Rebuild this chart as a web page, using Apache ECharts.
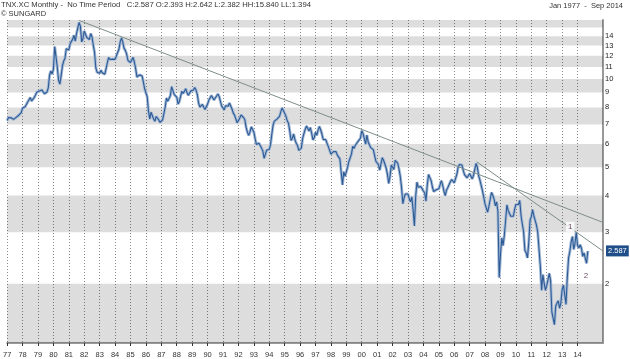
<!DOCTYPE html>
<html><head><meta charset="utf-8">
<script src="https://cdn.jsdelivr.net/npm/echarts@6/dist/echarts.min.js"></script>
<style>html,body{margin:0;padding:0;background:#fff}#c{width:630px;height:359px}</style>
</head><body><div id="c"></div><script>
// Monthly 10Y yield closes, Jan 1977 .. Sep 2014
const startYear = 1977;
const yields = [
 7.21,7.39,7.46,7.37,7.46,7.28,7.33,7.40,7.34,7.52,7.58,7.69,
 7.96,8.03,8.04,8.15,8.35,8.46,8.64,8.41,8.42,8.64,8.81,9.01,
 9.10,9.10,9.12,9.18,9.25,8.91,8.95,9.03,9.33,10.30,10.65,10.39,
 10.80,12.90,12.75,11.00,9.90,9.60,10.25,11.10,11.51,11.75,12.68,12.84,
 12.57,13.19,13.12,13.68,14.10,13.47,14.28,14.94,15.60,15.15,13.39,13.72,
 14.59,14.43,13.86,13.87,13.62,14.30,13.95,13.06,12.34,10.91,10.55,10.54,
 10.46,10.72,10.51,10.40,10.38,10.85,11.38,11.85,11.65,11.54,11.69,11.83,
 11.67,11.84,12.32,12.63,13.41,13.80,13.36,12.72,12.52,12.16,11.57,11.50,
 11.38,11.51,11.86,11.43,10.85,10.16,10.31,10.33,10.37,10.24,9.78,9.26,
 9.19,8.70,7.78,7.30,7.71,7.80,7.30,7.17,7.45,7.43,7.25,7.11,
 7.08,7.25,7.25,8.02,8.61,8.40,8.45,8.76,9.42,9.52,8.86,8.99,
 8.67,8.21,8.37,8.72,9.09,8.92,9.06,9.26,8.98,8.80,8.96,9.11,
 9.09,9.17,9.36,9.18,8.86,8.28,8.02,8.11,8.19,8.01,7.87,7.84,
 8.21,8.47,8.59,8.79,8.76,8.48,8.47,8.75,8.89,8.72,8.39,8.08,
 8.09,7.85,8.11,8.04,8.07,8.28,8.27,7.90,7.65,7.53,7.42,7.09,
 7.03,7.34,7.54,7.48,7.39,7.26,6.84,6.59,6.42,6.59,6.87,6.77,
 6.60,6.26,5.98,5.97,6.04,5.96,5.81,5.68,5.36,5.33,5.72,5.77,
 5.75,5.97,6.48,6.97,7.18,7.10,7.30,7.24,7.46,7.74,7.96,7.81,
 7.78,7.47,7.20,7.06,6.63,6.17,6.28,6.49,6.20,6.04,5.93,5.71,
 5.65,5.81,6.27,6.51,6.74,6.91,6.87,6.64,6.83,6.53,6.20,6.30,
 6.58,6.42,6.69,6.89,6.71,6.49,6.22,6.30,6.21,6.03,5.88,5.81,
 5.54,5.57,5.65,5.64,5.65,5.50,5.46,5.34,4.81,4.35,4.83,4.65,
 4.72,5.00,5.23,5.18,5.54,5.90,5.79,5.94,5.92,6.11,6.03,6.28,
 6.66,6.52,6.26,5.99,6.44,6.10,6.05,5.83,5.80,5.74,5.72,5.24,
 5.16,5.10,4.89,5.14,5.39,5.28,5.24,4.97,4.73,4.40,4.65,5.09,
 5.04,4.91,5.28,5.21,5.16,4.93,4.65,4.26,3.75,3.94,4.05,4.03,
 4.05,3.90,3.81,3.96,3.57,3.15,3.98,4.45,4.27,4.29,4.30,4.27,
 4.15,4.08,3.83,4.35,4.72,4.73,4.50,4.28,4.13,4.10,4.19,4.23,
 4.22,4.17,4.50,4.34,4.14,4.00,4.18,4.26,4.20,4.46,4.54,4.47,
 4.42,4.57,4.72,4.99,5.11,5.11,5.09,4.88,4.72,4.73,4.60,4.56,
 4.76,4.72,4.56,4.69,4.75,5.15,5.00,4.67,4.52,4.53,4.15,4.10,
 3.74,3.74,3.51,3.68,3.88,4.10,4.01,3.89,3.69,3.81,3.53,2.10,
 2.52,2.87,2.70,2.93,3.29,3.72,3.56,3.59,3.40,3.39,3.40,3.59,
 3.73,3.69,3.73,3.85,3.42,3.20,3.01,2.60,2.55,2.45,2.76,3.29,
 3.39,3.58,3.41,3.46,3.17,3.00,3.00,2.30,1.90,2.15,2.01,1.90,
 1.97,1.97,2.17,2.05,1.60,1.62,1.45,1.68,1.72,1.75,1.65,1.72,
 1.91,1.98,1.96,1.70,2.10,2.45,2.58,2.78,2.90,2.62,2.75,3.00,
 2.70,2.65,2.72,2.65,2.48,2.55,2.56,2.35,2.587
];
const yTickValues = [2,3,4,5,6,7,8,9,10,11,12,13,14];
const xTickYears = [1977,1978,1979,1980,1981,1982,1983,1984,1985,1986,1987,1988,1989,1990,1991,1992,1993,1994,1995,1996,1997,1998,1999,2000,2001,2002,2003,2004,2005,2006,2007,2008,2009,2010,2011,2012,2013,2014];
const grayBands = [[1.256,2],[3,4],[5,6],[7,8],[9,10],[11,12],[13,14],[15,15.9]];
const trendA = [[1981.67,15.84],[2015.65,3.24]];
const trendB = [[2007.45,5.22],[2015.65,2.587]];
const lastClose = 2.587;
const notes = [[2013.53,3.13,'1'],[2014.54,2.13,'2']];

const pts = yields.map((v,i)=>[startYear + i/12, v]);
const chart = echarts.init(document.getElementById('c'), null, {renderer:'canvas'});
const FONT = 'Liberation Sans';
chart.setOption({
  animation:false,
  backgroundColor:'#fff',
  textStyle:{fontFamily:FONT},
  title:[
    {text:'TNX.XC Monthly -  No Time Period   C:2.587 O:2.393 H:2.642 L:2.382 HH:15.840 LL:1.394',
     subtext:'© SUNGARD', left:0, top:0, padding:[1,1],itemGap:1,
     textStyle:{fontSize:7.7,fontWeight:'normal',color:'#333',fontFamily:FONT},
     subtextStyle:{fontSize:7.5,color:'#333',fontFamily:FONT}},
    {text:'Jan 1977  -  Sep 2014', right:6, top:1, padding:[1,1],
     textStyle:{fontSize:7.5,fontWeight:'normal',color:'#333',fontFamily:FONT}}
  ],
  grid:{left:2,right:27,top:20,bottom:16,containLabel:false},
  xAxis:{type:'value',min:1977,max:2015.65,interval:1,
    axisLine:{show:true,lineStyle:{color:'#999',width:2}},
    axisTick:{show:true,length:3,lineStyle:{color:'#333'},customValues:xTickYears},
    axisLabel:{customValues:xTickYears,fontSize:7.5,color:'#333',margin:8,
      formatter:v=>String(Math.round(v)%100).padStart(2,'0')},
    splitLine:{show:true,lineStyle:{color:'#8a8a8a',type:[1,2],width:1}}},
  yAxis:{type:'log',position:'right',min:1.256,max:15.9,
    axisLine:{show:true,lineStyle:{color:'#999',width:2}},
    axisTick:{show:false},
    axisLabel:{customValues:yTickValues,fontSize:7.5,color:'#222',margin:2,formatter:v=>String(v)},
    splitLine:{show:false}},
  series:[
    {type:'line',data:[],silent:true,z:0,
     markArea:{silent:true,itemStyle:{color:'rgba(0,0,0,0.135)'},
       data:grayBands.map(b=>[{yAxis:b[0]},{yAxis:b[1]}])}},
    {type:'line',data:pts,showSymbol:false,z:2,lineStyle:{color:'#a7bbd6',width:3},silent:true},
    {type:'line',data:pts,showSymbol:false,z:3,lineStyle:{color:'#2d5b96',width:1.1},
     markLine:{silent:true,symbol:['none','none'],lineStyle:{color:'rgba(0,0,0,0)',width:0,opacity:1},
       label:{show:true,position:'end',formatter:String(lastClose),color:'#fff',backgroundColor:'#1f4e89',
         padding:[2,2,1,2],fontSize:7.5,distance:3,opacity:1},
       data:[{yAxis:lastClose}]}},
    {type:'line',data:trendA,showSymbol:false,z:4,lineStyle:{color:'#7d8e87',width:1}},
    {type:'line',data:trendB,showSymbol:false,z:4,lineStyle:{color:'#7d8e87',width:1}},
    {type:'scatter',data:notes.map(n=>[n[0],n[1]]),symbolSize:0,z:5,
     label:{show:true,position:'inside',formatter:p=>notes[p.dataIndex][2],fontSize:8,color:'#4a2040',
       backgroundColor:'#fff',padding:[1,2]}}
  ]
});
</script></body></html>
